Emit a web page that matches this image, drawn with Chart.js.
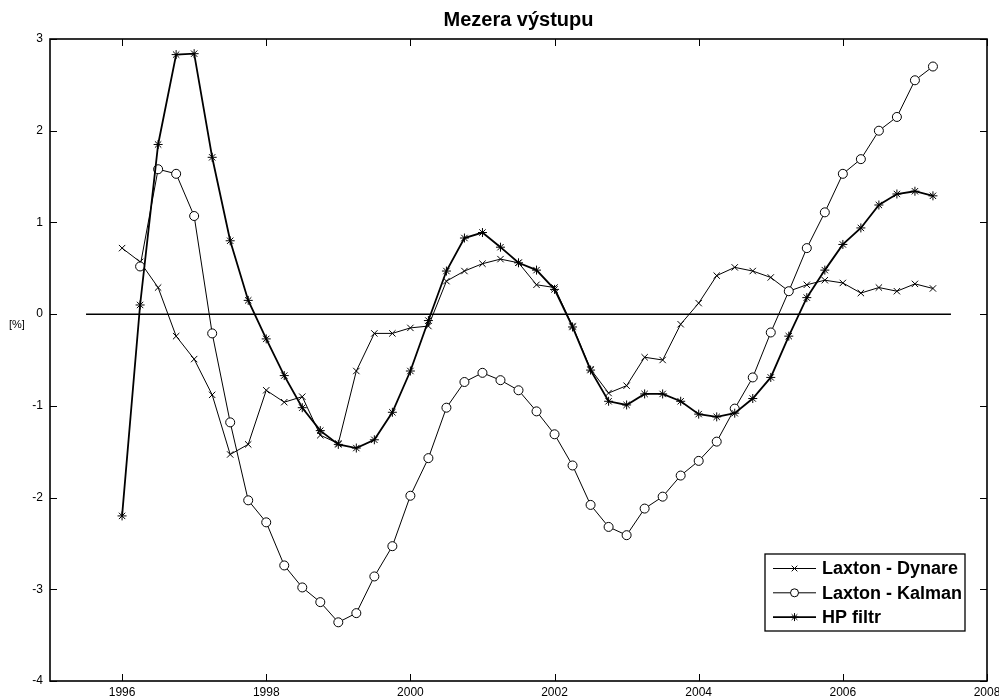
<!DOCTYPE html>
<html>
<head>
<meta charset="utf-8">
<script src="https://cdn.jsdelivr.net/npm/chart.js@4.4.1/dist/chart.umd.min.js"></script>
<style>
  body { margin: 0; background: #fff; }
  canvas { display: block; }
</style>
</head>
<body>
<canvas id="grafico" width="999" height="699"></canvas>
<script>
// ctvrtletni data 1996Q1 - 2007Q2
const obdobi = [
  1996, 1996.25, 1996.5, 1996.75, 1997, 1997.25, 1997.5, 1997.75,
  1998, 1998.25, 1998.5, 1998.75, 1999, 1999.25, 1999.5, 1999.75,
  2000, 2000.25, 2000.5, 2000.75, 2001, 2001.25, 2001.5, 2001.75,
  2002, 2002.25, 2002.5, 2002.75, 2003, 2003.25, 2003.5, 2003.75,
  2004, 2004.25, 2004.5, 2004.75, 2005, 2005.25, 2005.5, 2005.75,
  2006, 2006.25, 2006.5, 2006.75, 2007, 2007.25
]

const laxtonDynare = [
  0.72, 0.57, 0.29, -0.24, -0.49, -0.88, -1.53, -1.42,
  -0.83, -0.96, -0.90, -1.32, -1.41, -0.62, -0.21, -0.21,
  -0.15, -0.13, 0.36, 0.47, 0.55, 0.60, 0.56, 0.32,
  0.29, -0.13, -0.60, -0.86, -0.78, -0.47, -0.50, -0.11,
  0.12, 0.42, 0.51, 0.47, 0.40, 0.25, 0.32, 0.37,
  0.34, 0.23, 0.29, 0.25, 0.33, 0.28
]

const laxtonKalman = [
  null, 0.52, 1.58, 1.53, 1.07, -0.21, -1.18, -2.03,
  -2.27, -2.74, -2.98, -3.14, -3.36, -3.26, -2.86, -2.53,
  -1.98, -1.57, -1.02, -0.74, -0.64, -0.72, -0.83, -1.06,
  -1.31, -1.65, -2.08, -2.32, -2.41, -2.12, -1.99, -1.76,
  -1.60, -1.39, -1.03, -0.69, -0.20, 0.25, 0.72, 1.11,
  1.53, 1.69, 2.00, 2.15, 2.55, 2.70
]

const hpFiltr = [
  -2.20, 0.10, 1.85, 2.83, 2.84, 1.71, 0.80, 0.15,
  -0.27, -0.67, -1.02, -1.27, -1.42, -1.46, -1.37, -1.07,
  -0.62, -0.07, 0.47, 0.83, 0.89, 0.73, 0.56, 0.48,
  0.27, -0.14, -0.61, -0.95, -0.99, -0.87, -0.87, -0.95,
  -1.09, -1.12, -1.08, -0.92, -0.69, -0.24, 0.18, 0.48,
  0.76, 0.94, 1.19, 1.31, 1.34, 1.29
]

const nulovaX = [1995.5, 2007.5]
const nulovaY = [0, 0]

const xTicks = [1996, 1998, 2000, 2002, 2004, 2006, 2008]
const yTicks = [-4, -3, -2, -1, 0, 1, 2, 3]

const body = (xs, ys) => xs.map((x, i) => ({ x: x, y: ys[i] }))

// ramecek, vnitrni carky, popisek osy a legenda
const matlabStyl = {
  id: 'matlabStyl',
  afterDraw(chart) {
    const ctx = chart.ctx
    const a = chart.chartArea
    const sx = chart.scales.x
    const sy = chart.scales.y
    const delka = 7

    ctx.save()
    ctx.strokeStyle = '#000'
    ctx.lineWidth = 1
    xTicks.forEach(t => {
      const px = Math.round(sx.getPixelForValue(t)) + 0.5
      ctx.beginPath()
      ctx.moveTo(px, a.bottom); ctx.lineTo(px, a.bottom - delka)
      ctx.moveTo(px, a.top); ctx.lineTo(px, a.top + delka)
      ctx.stroke()
    })
    yTicks.forEach(t => {
      const py = Math.round(sy.getPixelForValue(t)) + 0.5
      ctx.beginPath()
      ctx.moveTo(a.left, py); ctx.lineTo(a.left + delka, py)
      ctx.moveTo(a.right, py); ctx.lineTo(a.right - delka, py)
      ctx.stroke()
    })
    ctx.lineWidth = 1.6
    ctx.strokeRect(a.left, a.top, a.right - a.left, a.bottom - a.top)

    // popisek osy y
    ctx.fillStyle = '#000'
    ctx.font = '11px "Liberation Sans", Arial, sans-serif'
    ctx.textAlign = 'left'
    ctx.textBaseline = 'middle'
    ctx.fillText('[%]', 9, 325)

    // legenda
    const lx = a.right - 222, ly = a.bottom - 127
    const lw = 200, lh = 77
    ctx.fillStyle = '#fff'
    ctx.fillRect(lx, ly, lw, lh)
    ctx.lineWidth = 1.3
    ctx.strokeRect(lx, ly, lw, lh)
    ctx.font = 'bold 18px "Liberation Sans", Arial, sans-serif'
    const polozky = chart.data.datasets.filter(d => d.label)
    polozky.forEach((d, i) => {
      const ry = ly + 14.5 + i * 24.3
      ctx.strokeStyle = '#000'
      ctx.lineWidth = d.borderWidth
      ctx.beginPath()
      ctx.moveTo(lx + 8, ry); ctx.lineTo(lx + 51, ry)
      ctx.stroke()
      ctx.fillStyle = d.pointBackgroundColor
      ctx.lineWidth = 1
      Chart.helpers.drawPoint(ctx, {
        pointStyle: d.pointStyle,
        radius: d.pointRadius - 0.5,
        rotation: 0,
        borderWidth: 1
      }, lx + 29.5, ry)
      ctx.fillStyle = '#000'
      ctx.fillText(d.label, lx + 57, ry + 1)
    })
    ctx.restore()
  }
}

const ctx = document.getElementById('grafico')

const config = {
  type: 'line',
  data: {
    datasets: [
      {
        label: 'Laxton - Dynare',
        data: body(obdobi, laxtonDynare),
        borderColor: '#000',
        borderWidth: 1,
        pointStyle: 'crossRot',
        pointRadius: 4.5,
        pointBorderColor: '#000',
        pointBackgroundColor: '#000',
        pointBorderWidth: 1,
        order: 2
      },
      {
        label: 'Laxton - Kalman',
        data: body(obdobi, laxtonKalman),
        borderColor: '#000',
        borderWidth: 1,
        pointStyle: 'circle',
        pointRadius: 4.5,
        pointBorderColor: '#000',
        pointBackgroundColor: '#fff',
        pointBorderWidth: 1,
        order: 1
      },
      {
        label: 'HP filtr',
        data: body(obdobi, hpFiltr),
        borderColor: '#000',
        borderWidth: 1.8,
        pointStyle: 'star',
        pointRadius: 4.5,
        pointBorderColor: '#000',
        pointBackgroundColor: '#000',
        pointBorderWidth: 1,
        order: 0
      },
      {
        label: '',
        data: body(nulovaX, nulovaY),
        borderColor: '#000',
        borderWidth: 1.5,
        pointRadius: 0,
        order: 3
      }
    ]
  },
  options: {
    responsive: false,
    animation: false,
    layout: { padding: { top: 0, right: 12, bottom: 0, left: 0 } },
    elements: { line: { tension: 0 } },
    plugins: {
      legend: { display: false },
      tooltip: { enabled: false },
      title: {
        display: true,
        text: 'Mezera výstupu',
        fullSize: false,
        color: '#000',
        font: { family: '"Liberation Sans", Arial, sans-serif', size: 20, weight: 'bold' },
        padding: { top: 8, bottom: 7 }
      }
    },
    scales: {
      x: {
        type: 'linear',
        min: 1995,
        max: 2008,
        grid: { display: false, drawTicks: false },
        border: { display: false },
        afterBuildTicks: (scale) => { scale.ticks = xTicks.map(v => ({ value: v })) },
        afterFit: (scale) => {
          scale.height = 18
          scale.paddingLeft = 0
          scale.paddingRight = 0
        },
        ticks: {
          padding: 4,
          maxRotation: 0,
          color: '#000',
          font: { family: '"Liberation Sans", Arial, sans-serif', size: 12 },
          callback: (v) => String(v)
        }
      },
      y: {
        type: 'linear',
        min: -4,
        max: 3,
        grid: { display: false, drawTicks: false },
        border: { display: false },
        afterBuildTicks: (scale) => { scale.ticks = yTicks.map(v => ({ value: v })) },
        afterFit: (scale) => {
          scale.width = 50
          scale.paddingTop = 0
          scale.paddingBottom = 0
        },
        ticks: {
          padding: 7,
          color: '#000',
          font: { family: '"Liberation Sans", Arial, sans-serif', size: 12 }
        }
      }
    }
  },
  plugins: [matlabStyl]
}

const myChart = new Chart(ctx, config)
</script>
</body>
</html>
